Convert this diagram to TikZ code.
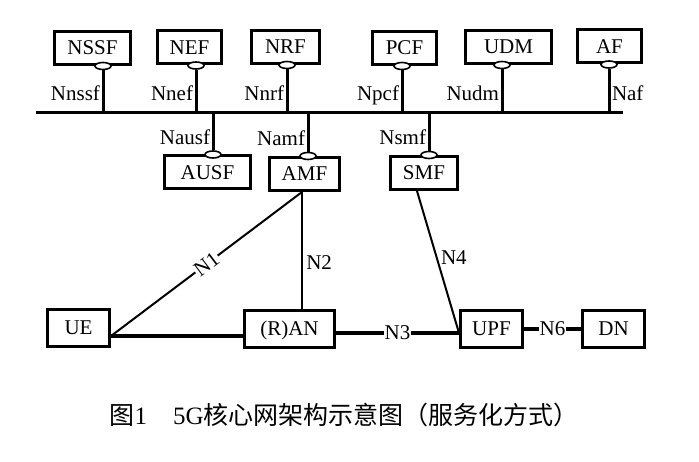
\documentclass[tikz,border=0pt]{standalone}
\usepackage{fontspec}
\setmainfont{Liberation Serif}
\newfontfamily\cjkfont{Noto Sans CJK SC}
\usetikzlibrary{calc}
\usetikzlibrary{positioning}
\usetikzlibrary{shapes.geometric}
\tikzstyle{nfnode} = [draw, rectangle, line width=3pt, inner sep=0pt, minimum height=33pt, text height=14pt, text depth=0pt]
\tikzstyle{ranode} = [nfnode, minimum height=37pt]
\tikzstyle{portnode} = [draw, ellipse, fill=white, line width=1.6pt, minimum width=16pt, minimum height=7pt, inner sep=0pt]
\tikzstyle{busline} = [line width=3pt]
\tikzstyle{thickline} = [line width=3.2pt]
\tikzstyle{thinline} = [line width=2pt]
\tikzstyle{iflabel} = [inner sep=1.5pt, text height=14pt, text depth=0pt]
\tikzstyle{sidelabel} = [text height=14pt, text depth=0pt]
\tikzstyle{cutlabel} = [fill=white, inner sep=1pt, text height=14pt, text depth=0pt]

\begin{document}
\begin{tikzpicture}[x=1pt, y=-1pt, font=\fontsize{21}{25}\selectfont]
\useasboundingbox (0,0) rectangle (699,462);
% functions above the bus
\node[nfnode, minimum width=76pt] (nssf) at (92.5,48) {NSSF};
\node[nfnode, minimum width=64pt] (nef) at (189.5,47.5) {NEF};
\node[nfnode, minimum width=68pt] (nrf) at (285.5,47) {NRF};
\node[nfnode, minimum width=64pt] (pcf) at (404.5,48) {PCF};
\node[nfnode, minimum width=86pt] (udm) at (508.5,47) {UDM};
\node[nfnode, minimum width=64pt] (af) at (609.5,46.5) {AF};
% functions below the bus
\node[nfnode, minimum width=86pt] (ausf) at (207.5,172.5) {AUSF};
\node[nfnode, minimum width=70pt] (amf) at (304.5,174) {AMF};
\node[nfnode, minimum width=67pt] (smf) at (424,173) {SMF};
% access and user plane
\node[ranode, minimum width=62pt] (ue) at (78.5,328) {UE};
\node[ranode, minimum width=90pt] (ran) at (289.5,329) {(R)AN};
\node[ranode, minimum width=62pt] (upf) at (491.5,329) {UPF};
\node[ranode, minimum width=62pt] (dn) at (613.5,329) {DN};

% service interfaces
\node[portnode] (p_nssf) at ($(nssf.south)+(10.5,0)$) {};
\node[portnode] (p_nef) at ($(nef.south)+(6.5,0)$) {};
\node[portnode] (p_nrf) at ($(nrf.south)+(1.5,0)$) {};
\node[portnode] (p_pcf) at ($(pcf.south)+(-2.5,0)$) {};
\node[portnode] (p_udm) at ($(udm.south)+(-6.5,0)$) {};
\node[portnode] (p_af) at ($(af.south)+(-0.5,0)$) {};
\node[portnode] (p_ausf) at ($(ausf.north)+(5.5,0)$) {};
\node[portnode] (p_amf) at ($(amf.north)+(3.5,0)$) {};
\node[portnode] (p_smf) at ($(smf.north)+(5,0)$) {};

% bus
\coordinate (bus_w) at (36,113);
\coordinate (bus_e) at (623,113);
\draw[busline] (bus_w) -- (bus_e);
\draw[busline] (p_nssf.south) -- (p_nssf.south |- bus_w) node[iflabel, pos=0.55, left] {Nnssf};
\draw[busline] (p_nef.south) -- (p_nef.south |- bus_w) node[iflabel, pos=0.55, left] {Nnef};
\draw[busline] (p_nrf.south) -- (p_nrf.south |- bus_w) node[iflabel, pos=0.55, left] {Nnrf};
\draw[busline] (p_pcf.south) -- (p_pcf.south |- bus_w) node[iflabel, pos=0.55, left] {Npcf};
\draw[busline] (p_udm.south) -- (p_udm.south |- bus_w) node[iflabel, pos=0.55, left] {Nudm};
\draw[busline] (p_af.south) -- (p_af.south |- bus_w) node[iflabel, pos=0.55, right] {Naf};
\draw[busline] (p_ausf.north) -- (p_ausf.north |- bus_w) node[iflabel, pos=0.35, left] {Nausf};
\draw[busline] (p_amf.north) -- (p_amf.north |- bus_w) node[iflabel, pos=0.35, left] {Namf};
\draw[busline] (p_smf.north) -- (p_smf.north |- bus_w) node[iflabel, pos=0.35, left] {Nsmf};

% reference points
\coordinate (amf_b) at ($(amf.south)+(-2.5,0)$);
\coordinate (smf_b) at ($(smf.south)+(-7,0)$);
\coordinate (ue_r) at ($(ue.east)+(0,8)$);
\coordinate (upf_l) at ($(upf.west)+(0,4)$);
\draw[thickline] (ue_r) -- (ue_r -| ran.west);
\draw[thinline] (amf_b) -- (ue_r) node[cutlabel, midway, sloped] {N1};
\draw[thinline] (amf_b) -- (amf_b |- ran.north) node[sidelabel, pos=0.6, right] {N2};
\draw[thickline] (ran.east |- upf_l) -- (upf_l) node[cutlabel, midway] {N3};
\draw[thinline] (smf_b) -- (upf_l) node[sidelabel, pos=0.47, right] {N4};
\draw[thickline] (upf) -- (dn) node[cutlabel, midway] {N6};

\node[anchor=west, font=\fontsize{25}{29}\selectfont] (caption) at (106,415)
  {{\cjkfont 图}1\hspace{26pt}5G{\cjkfont 核心网架构示意图（服务化方式）}};
\end{tikzpicture}
\end{document}
